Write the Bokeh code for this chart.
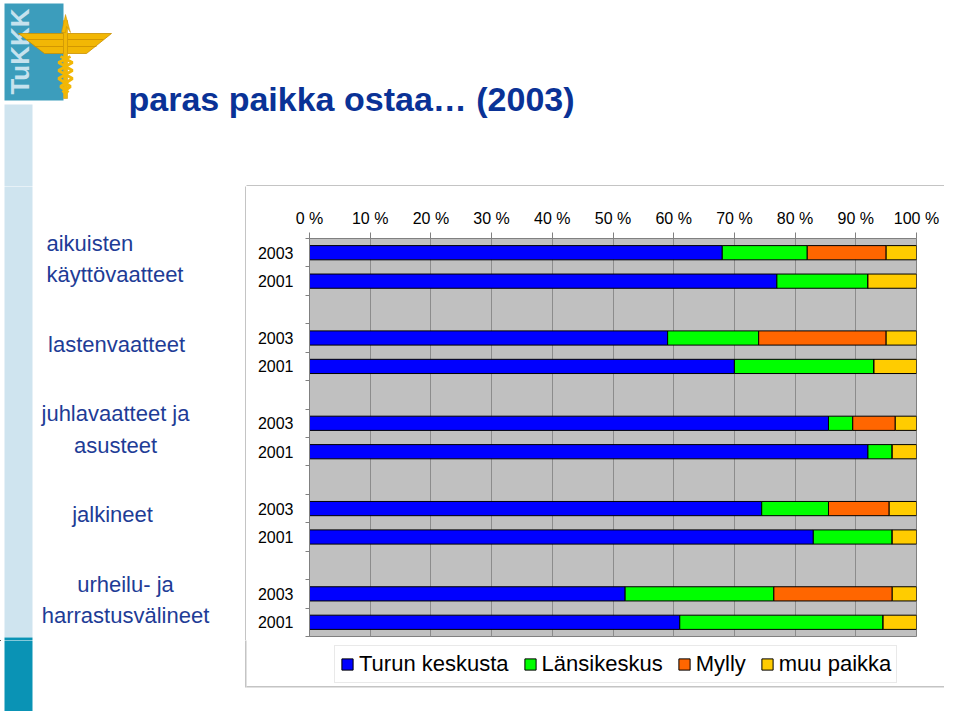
from math import pi
from bokeh.plotting import figure
from bokeh.layouts import column, row
from bokeh.models import ColumnDataSource, Range1d, FixedTicker, Legend, LegendItem
from bokeh.core.properties import value
from bokeh.embed import file_html
from bokeh.resources import INLINE

# ---------------- data ----------------
title_text = "paras paikka ostaa… (2003)"
categories = ["aikuisten\nkäyttövaatteet", "lastenvaatteet", "juhlavaatteet ja\nasusteet",
              "jalkineet", "urheilu- ja\nharrastusvälineet"]
years = ["2003", "2001"]
stores = ["Turun keskusta", "Länsikeskus", "Mylly", "muu paikka"]
turku_2003 = [68, 59, 85.5, 74.5, 52]
turku_2001 = [77, 70, 92, 83, 61]
lansi_2003 = [14, 15, 4, 11, 24.5]
lansi_2001 = [15, 23, 4, 13, 33.5]
mylly_2003 = [13, 21, 7, 10, 19.5]
mylly_2001 = [0, 0, 0, 0, 0]
muu_2003 = [5, 5, 3.5, 4.5, 4]
muu_2001 = [8, 7, 4, 4, 5.5]
pct_ticks = [0, 10, 20, 30, 40, 50, 60, 70, 80, 90, 100]

# ---------------- styles / layout ----------------
colors = ["#0000FF", "#00FF00", "#FF6600", "#FFCC00"]
FONT = "Liberation Sans"
TITLE_COLOR = "#0A3296"
CAT_COLOR = "#1E3C96"
STRIPE_LIGHT = "#CFE4EF"
STRIPE_DARK = "#0A93B5"
BOX_COLOR = "#C4C4C4"

W, H = 944, 711
TOP_H = 186                 # top band (title + logo)
LEFT_W = 246                # left band (category labels)
MAIN_W = W - LEFT_W
FRAME_L, FRAME_R, FRAME_T, FRAME_B = 63, 28, 52, 4
FRAME_H = 398
MAIN_H = FRAME_T + FRAME_H + FRAME_B
Y_BOT = TOP_H + MAIN_H
BOT_H = H - Y_BOT
BOX_BOTTOM = 687
STRIPE_SPLIT = 637


def deco_fig(w, h, x0, y0):
    f = figure(width=w, height=h, output_backend="svg", toolbar_location=None,
               x_range=Range1d(x0, x0 + w), y_range=Range1d(y0 + h, y0),
               x_axis_type=None, y_axis_type=None, min_border=0,
               outline_line_color=None, background_fill_color="white",
               border_fill_color="white")
    f.grid.visible = False
    return f


# ---------------- rows ----------------
rows_y, row_labels = [], []
data = {s: [] for s in stores}
per_year = {
    "2003": [turku_2003, lansi_2003, mylly_2003, muu_2003],
    "2001": [turku_2001, lansi_2001, mylly_2001, muu_2001],
}
for i, cat in enumerate(categories):
    for j, yr in enumerate(years):
        rows_y.append(3 * i + j)
        row_labels.append(yr)
        for s, series in zip(stores, per_year[yr]):
            data[s].append(series[i])
n_rows = 3 * len(categories) - 1
src = ColumnDataSource(dict(y=rows_y, **data))

# ---------------- main chart ----------------
p = figure(width=MAIN_W, height=MAIN_H, output_backend="svg", toolbar_location=None,
           x_range=Range1d(0, 100), y_range=Range1d(n_rows - 0.5, -0.5),
           x_axis_location="above",
           min_border_left=FRAME_L, min_border_right=FRAME_R,
           min_border_top=FRAME_T, min_border_bottom=FRAME_B,
           background_fill_color="#C0C0C0", border_fill_color="white",
           outline_line_color="#808080")

renderers = p.hbar_stack(stores, y="y", height=0.5, color=colors, line_color="black",
                         line_width=1, source=src)

xa = p.xaxis[0]
xa.ticker = FixedTicker(ticks=pct_ticks)
xa.major_label_overrides = {t: f"{t} %" for t in pct_ticks}
xa.major_label_text_font = FONT
xa.major_label_text_font_size = "16px"
xa.major_label_text_color = "black"
xa.axis_line_color = "#808080"
xa.major_tick_line_color = "#808080"
xa.major_tick_out = 6
xa.major_tick_in = 0
xa.minor_tick_line_color = None
xa.major_label_standoff = 6

ya = p.yaxis[0]
ya.ticker = FixedTicker(ticks=rows_y, minor_ticks=[k - 0.5 for k in range(n_rows + 1)])
ya.major_label_overrides = {y: lab for y, lab in zip(rows_y, row_labels)}
ya.major_label_text_font = FONT
ya.major_label_text_font_size = "16px"
ya.major_label_text_color = "black"
ya.axis_line_color = "#808080"
ya.major_tick_line_color = None
ya.major_tick_out = 0
ya.major_tick_in = 0
ya.minor_tick_line_color = "#808080"
ya.minor_tick_out = 4
ya.minor_tick_in = 0
ya.major_label_standoff = 12

p.xgrid.ticker = FixedTicker(ticks=pct_ticks)
p.xgrid.grid_line_color = "#8C8C8C"
p.ygrid.visible = False

# ---------------- top band: logo + title ----------------
top = deco_fig(W, TOP_H, 0, 0)
top.quad(left=[4], right=[32], top=[104], bottom=[TOP_H + 2], fill_color=STRIPE_LIGHT, line_color=None)
top.quad(left=[4], right=[63], top=[3], bottom=[100], fill_color="#3C9DBC", line_color=None)
top.text(x=[19], y=[51], text=["TuKKK"], angle=pi / 2, text_align="center",
         text_baseline="middle", text_font=value(FONT), text_font_style="bold",
         text_font_size="26px", text_color="#C6E2EE")
gold, dark_gold = "#F2B705", "#C98F00"
# wings
top.patch([18, 63, 63, 44], [33, 33, 53, 53], fill_color=gold, line_color=dark_gold, line_width=0.8)
top.patch([67, 111, 86, 67], [33, 33, 53, 53], fill_color=gold, line_color=dark_gold, line_width=0.8)
top.multi_line([[26, 63], [34, 63], [67, 103], [67, 96]], [[39, 39], [46, 46], [39, 39], [46, 46]],
               line_color=dark_gold, line_width=0.8)
# staff and flame
top.patch([63, 67, 67, 63], [20, 20, 98, 98], fill_color=gold, line_color=dark_gold, line_width=0.5)
top.patch([61, 65, 70, 66, 65], [32, 14, 32, 26, 32], fill_color=gold, line_color=dark_gold, line_width=0.5)
# serpents
top.multi_line([[70, 58, 72, 58, 70, 62], [60, 72, 58, 72, 60, 68]],
               [[56, 62, 70, 78, 86, 92], [56, 62, 70, 78, 86, 92]],
               line_color=gold, line_width=3)
top.text(x=[128], y=[98], text=[title_text], text_align="left", text_baseline="alphabetic",
         text_font=value(FONT), text_font_style="bold", text_font_size="34px",
         text_color=TITLE_COLOR)
# chart box: top edge
top.segment(x0=[LEFT_W], y0=[TOP_H - 0.75], x1=[W], y1=[TOP_H - 0.75], line_color=BOX_COLOR, line_width=1.5)

# ---------------- left band: stripe + category labels ----------------
left = deco_fig(LEFT_W, MAIN_H, 0, TOP_H)
left.quad(left=[4], right=[32], top=[TOP_H - 2], bottom=[STRIPE_SPLIT], fill_color=STRIPE_LIGHT, line_color=None)
left.quad(left=[4], right=[32], top=[STRIPE_SPLIT], bottom=[Y_BOT + 2], fill_color=STRIPE_DARK, line_color=None)
left.segment(x0=[LEFT_W - 0.75], y0=[TOP_H - 2], x1=[LEFT_W - 0.75], y1=[Y_BOT + 2],
             line_color=BOX_COLOR, line_width=1.5)

frame_top_px = TOP_H + FRAME_T
row_h = FRAME_H / n_rows
cat_anchor = [46, 116, 115, 112, 125]
cat_align = ["left", "center", "center", "center", "center"]
for i, cat in enumerate(categories):
    yc = frame_top_px + (3 * i + 1) * row_h - 8
    left.text(x=[cat_anchor[i]], y=[yc], text=[cat], text_align=cat_align[i],
              text_baseline="middle", text_font=value(FONT), text_font_size="22px",
              text_color=CAT_COLOR, text_line_height=1.27)

# ---------------- bottom band: legend + box bottom edge ----------------
bot = deco_fig(W, BOT_H, 0, Y_BOT)
bot.quad(left=[4], right=[32], top=[Y_BOT - 2], bottom=[H + 2], fill_color=STRIPE_DARK, line_color=None)
bot.segment(x0=[LEFT_W - 0.75], y0=[Y_BOT - 2], x1=[LEFT_W - 0.75], y1=[BOX_BOTTOM],
            line_color=BOX_COLOR, line_width=1.5)
bot.segment(x0=[LEFT_W], y0=[BOX_BOTTOM - 0.75], x1=[W], y1=[BOX_BOTTOM - 0.75],
            line_color=BOX_COLOR, line_width=1.5)
# legend proxies (kept outside the visible band)
proxy = ColumnDataSource(dict(y=[-1000], right=[0]))
proxies = [bot.hbar(y="y", right="right", height=1, source=proxy, fill_color=c,
                    line_color="black", line_width=1) for c in colors]
legend = Legend(items=[LegendItem(label=s, renderers=[r]) for s, r in zip(stores, proxies)],
                orientation="horizontal", location=(334, H - 683),
                label_text_font=FONT, label_text_font_size="22px", label_text_color="black",
                label_height=26, label_text_baseline="middle",
                glyph_width=14, glyph_height=14, label_standoff=5, spacing=14,
                padding=5, margin=0, border_line_color="#D4D4D4", border_line_width=1,
                background_fill_color="white", background_fill_alpha=1.0)
bot.add_layout(legend)

layout = column(top, row(left, column(p)), bot)

open("out.html", "w").write(file_html(layout, INLINE))
